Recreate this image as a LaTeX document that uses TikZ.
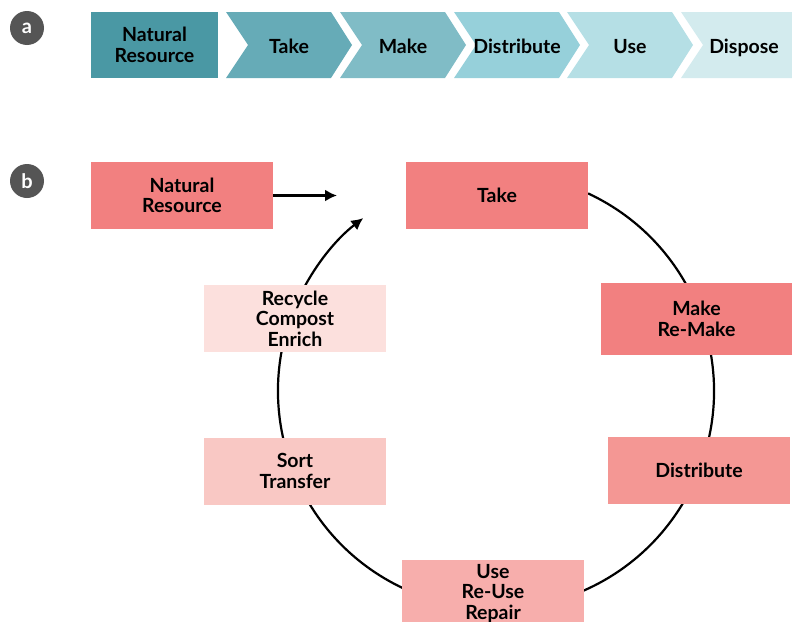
\documentclass[tikz,border=0pt]{standalone}
\usepackage{fontspec}
\setmainfont{Lato}
\usetikzlibrary{arrows.meta}

\definecolor{tagGray}{HTML}{555555}
\definecolor{tealA}{HTML}{4A98A4}
\definecolor{tealB}{HTML}{66ABB7}
\definecolor{tealC}{HTML}{80BCC6}
\definecolor{tealD}{HTML}{96D0DA}
\definecolor{tealE}{HTML}{B5DFE5}
\definecolor{tealF}{HTML}{D3EBEE}
\definecolor{redA}{HTML}{F28080}
\definecolor{redB}{HTML}{F49794}
\definecolor{redC}{HTML}{F7AEAC}
\definecolor{redD}{HTML}{F9C8C4}
\definecolor{redE}{HTML}{FCE0DD}

\begin{document}
\begin{tikzpicture}[x=1pt,y=1pt,
    box/.style={rectangle,inner sep=0pt,minimum width=182pt,minimum height=67pt,
      align=center,font=\bfseries\fontsize{19.5}{20.5}\selectfont},
    label/.style={box,minimum width=0pt,text height=16pt,text depth=0pt},
    tag/.style={circle,fill=tagGray,minimum size=34pt,inner sep=0pt,
      text=white,font=\bfseries\fontsize{20}{20}\selectfont},
    link/.style={line width=2.2pt,-{Latex[length=12pt,width=12pt]}}]
      \useasboundingbox (0,0) rectangle (792,-621);
      % part a
      \node[tag] (taga) at (27,-28) {a};
      \node[box,fill=tealA,minimum width=127pt,minimum height=66pt] (anat) at (154.5,-45) {Natural\\Resource};
      % routine for chevrons
      \foreach \x/\c/\t/\n in {226/tealB/Take/atake, 340/tealC/Make/amake,
          454/tealD/Distribute/adist, 567/tealE/Use/ause} {
        \fill[\c] (\x,-12) -- ++(105,0) -- ++(21,-33) -- ++(-21,-33) -- ++(-105,0) -- ++(22,33) -- cycle;
        \node[label] (\n) at (\x+63,-45) {\t};
      }
      \fill[tealF] (681,-12) -- (792,-12) -- (792,-78) -- (681,-78) -- (703,-45) -- cycle;
      \node[label] (adisp) at (744,-45) {Dispose};
      % part b
      \node[tag] (tagb) at (27,-181) {b};
      \coordinate (hub) at (496,-391);
      \coordinate (entry) at (337,-195.5);
      \draw[link] ([shift={(65:218)}]hub) arc[start angle=65,end angle=-232.5,radius=218];
      \node[box,fill=redA] (nr) at (182,-195.5) {Natural\\Resource};
      \node[box,fill=redA] (take) at (497,-195.5) {Take};
      \node[box,fill=redA,minimum width=191pt,minimum height=72pt] (make) at (696.5,-319) {Make\\Re-Make};
      \node[box,fill=redB] (dist) at (699,-470.5) {Distribute};
      \node[box,fill=redC] (use) at (493,-593.5) {Use\\Re-Use\\Repair};
      \node[box,fill=redD] (sort) at (295,-471) {Sort\\Transfer};
      \node[box,fill=redE] (recyc) at (295,-318.5) {Recycle\\Compost\\Enrich};
      \draw[link] (nr.east) -- (entry);
    \end{tikzpicture}
\end{document}
